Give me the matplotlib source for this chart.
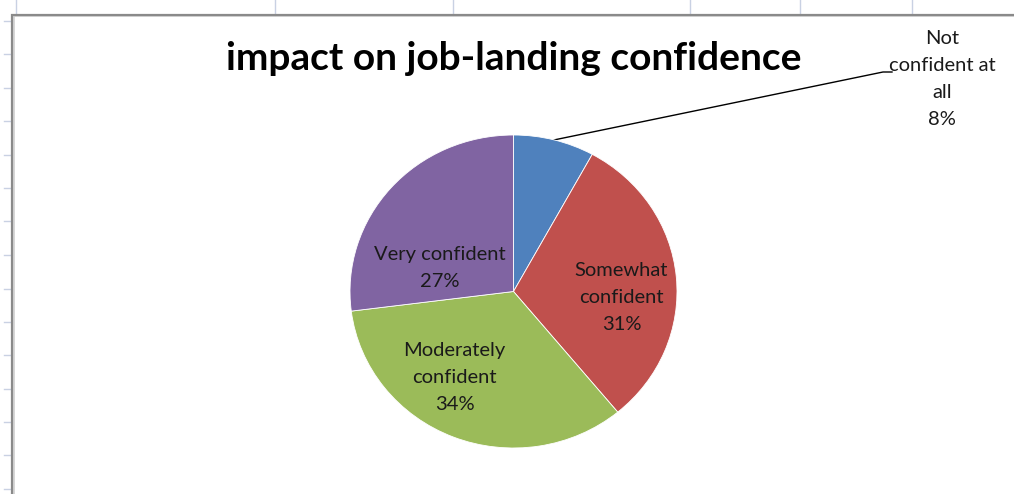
import numpy as np
import matplotlib
matplotlib.use("Agg")
import matplotlib.pyplot as plt

# Survey shares, listed clockwise from 12 o'clock
categories = ["Not\nconfident at\nall", "Somewhat\nconfident", "Moderately\nconfident", "Very confident"]
shares = [8, 31, 34, 27]
colors = ["#4F81BD", "#C0504D", "#9BBB59", "#8064A2"]

W, H = 1014, 494
fig = plt.figure(figsize=(W / 100, H / 100), dpi=100)
fig.patch.set_facecolor("white")

# Background layer in pixel coordinates: sheet gridline stubs and chart frame
bg = fig.add_axes([0, 0, 1, 1])
bg.set_xlim(0, W)
bg.set_ylim(H, 0)
bg.axis("off")
grid_col = "#c9d1e3"
for x in [16, 275, 453, 690, 800, 912]:
    bg.plot([x, x], [0, 15], color=grid_col, lw=1.0)
for y in [21, 54, 88, 121, 155, 188, 221, 255, 289, 322, 355, 389, 422, 455, 489]:
    bg.plot([4, 12], [y, y], color=grid_col, lw=1.0)
bg.plot([13.5, 13.5, W], [H, 16.5, 16.5], color="#d0d0d0", lw=1.2, solid_joinstyle="miter")
bg.plot([12, 12, W], [H, 15, 15], color="#8a8a8a", lw=1.6, solid_joinstyle="miter")

font = "Lato"
bg.text(514, 58, "impact on job-landing confidence", ha="center", va="center",
        fontsize=28, fontweight="bold", family=font, color="black")

# Pie axes (box of the ellipse in figure pixels)
px0, px1, py0, py1 = 350, 677, 135, 448
ax = fig.add_axes([px0 / W, 1 - py1 / H, (px1 - px0) / W, (py1 - py0) / H])
wedges, _ = ax.pie(shares, colors=colors, startangle=90, counterclock=False,
                   wedgeprops=dict(edgecolor="white", linewidth=0.6))
ax.set_aspect("auto")
ax.set_xlim(-1, 1)
ax.set_ylim(-1, 1)
ax.axis("off")

label_size = 14.5
spacing = 1.72

# Inside labels (pie coordinates)
label_pos = {1: (0.66, -0.04), 2: (-0.36, -0.55), 3: (-0.45, 0.15)}
for i, xy in label_pos.items():
    ax.text(xy[0], xy[1], f"{categories[i]}\n{shares[i]}%", ha="center", va="center",
            fontsize=label_size, family=font, color="#1a1a1a", linespacing=spacing)

# Outside label with leader line for the small slice
cum = np.cumsum([0] + shares)
mid = np.deg2rad(90 - (cum[0] + shares[0] / 2) / sum(shares) * 360)
start = ax.transData.transform((np.cos(mid), np.sin(mid)))
inv = bg.transData.inverted()
sx, sy = inv.transform(start)
bg.plot([sx, 883, 892], [sy, 72, 72], color="black", lw=1.0)
bg.text(942, 79, f"{categories[0]}\n{shares[0]}%", ha="center", va="center",
        fontsize=label_size, family=font, color="#1a1a1a", linespacing=spacing)

fig.savefig("out.png", dpi=100, facecolor="white")
